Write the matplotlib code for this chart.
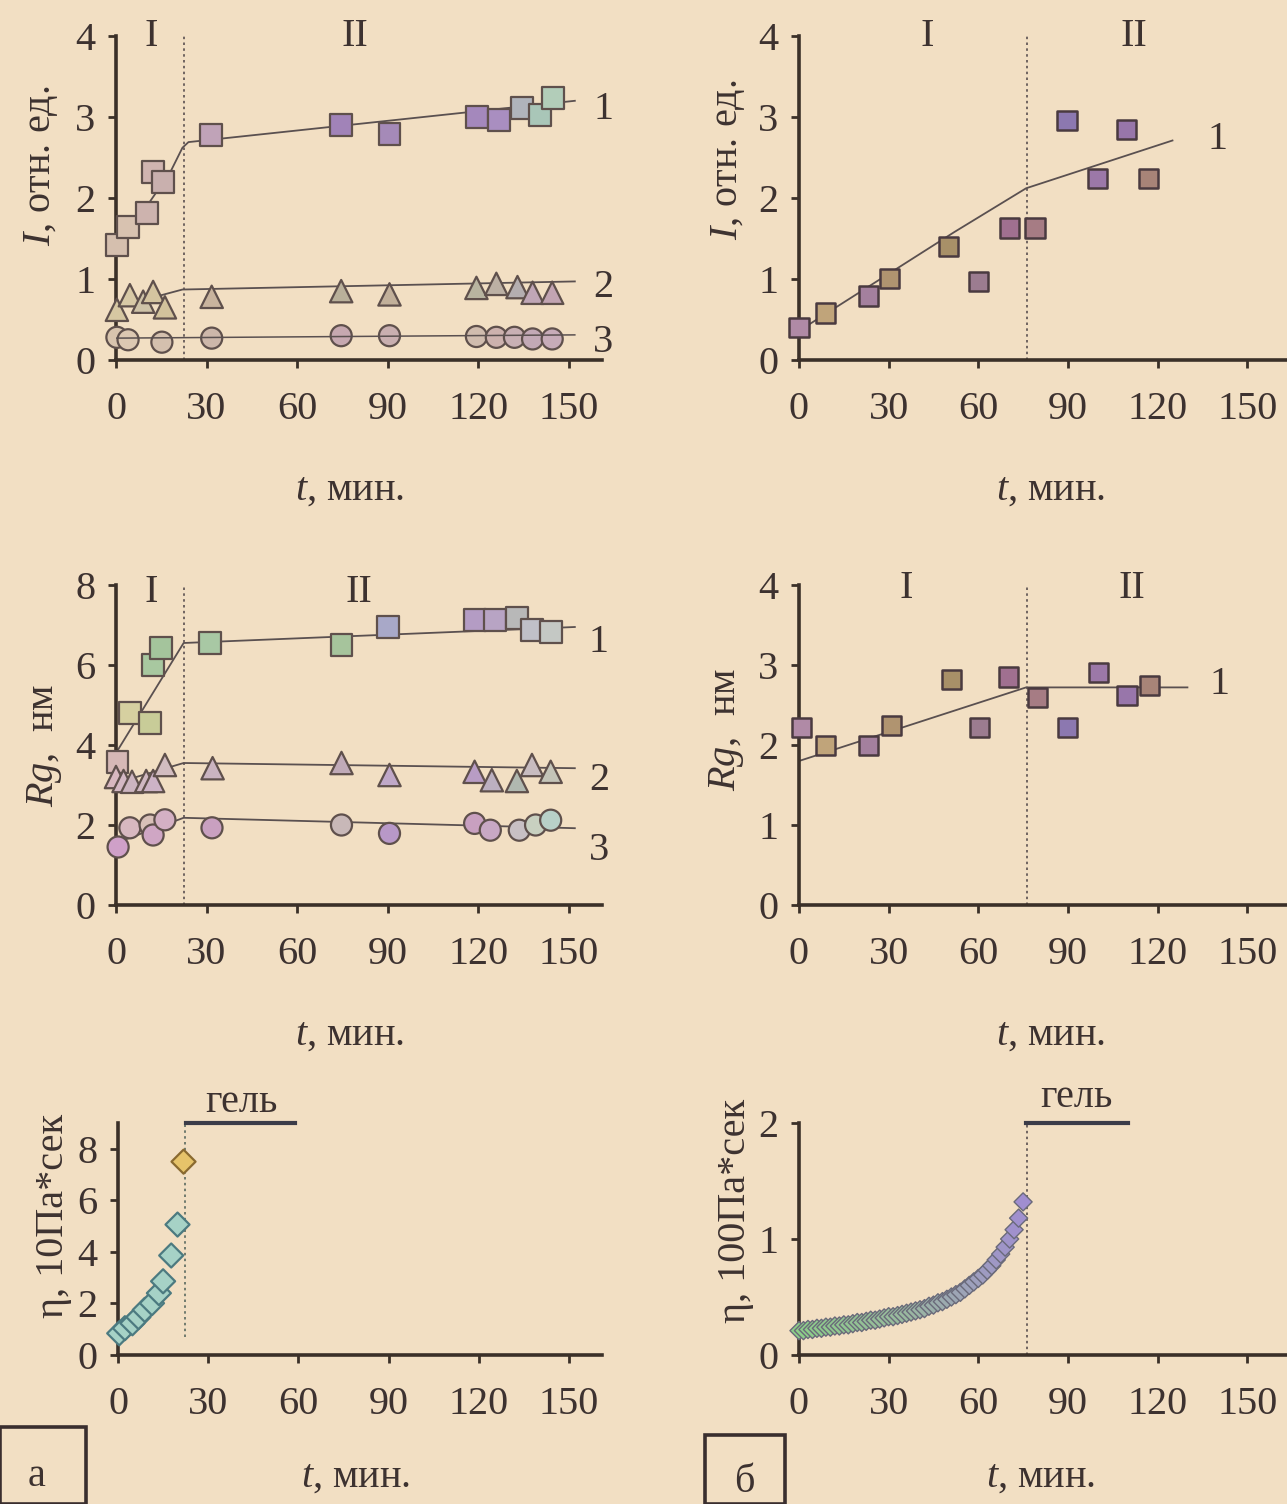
import matplotlib
matplotlib.use('Agg')
import matplotlib.pyplot as plt
from matplotlib.patches import Rectangle
from matplotlib.colors import LinearSegmentedColormap

plt.rcParams['font.family'] = ['Liberation Serif', 'DejaVu Serif']
plt.rcParams['mathtext.fontset'] = 'custom'
plt.rcParams['mathtext.it'] = 'Liberation Serif:italic'
plt.rcParams['mathtext.rm'] = 'Liberation Serif'

# ---------------- data ----------------
x_ticks = [0, 30, 60, 90, 120, 150]

# (a) intensity I, rel. units
a_I_t1 = [0.3, 4, 10.3, 12.3, 15.6, 31.5, 74.6, 90.6, 119.5, 127, 134.4, 140.4, 144.7]
a_I_y1 = [1.42, 1.64, 1.81, 2.32, 2.20, 2.78, 2.90, 2.79, 3.00, 2.96, 3.11, 3.02, 3.23]
a_I_t2 = [0.3, 4.6, 9, 12.3, 16.2, 31.7, 74.6, 90.6, 119.4, 126, 133, 138, 144.5]
a_I_y2 = [0.62, 0.80, 0.72, 0.84, 0.65, 0.78, 0.85, 0.81, 0.89, 0.94, 0.90, 0.83, 0.83]
a_I_t3 = [0.3, 4, 15.2, 31.7, 74.6, 90.6, 119.4, 126, 132, 138, 144.5]
a_I_y3 = [0.28, 0.25, 0.22, 0.27, 0.30, 0.30, 0.29, 0.28, 0.28, 0.26, 0.26]
a_I_fit1_t = [0, 18, 22, 24, 152]
a_I_fit1_y = [1.35, 2.32, 2.62, 2.69, 3.20]
a_I_fit2_t = [0, 15, 22, 152]
a_I_fit2_y = [0.68, 0.80, 0.87, 0.97]
a_I_fit3_t = [0, 152]
a_I_fit3_y = [0.27, 0.31]

# (б) intensity
b_I_t = [0, 8.9, 23.3, 30.4, 50, 60, 70.5, 79, 89.7, 100, 109.6, 117]
b_I_y = [0.40, 0.58, 0.79, 1.01, 1.40, 0.97, 1.63, 1.63, 2.96, 2.24, 2.85, 2.24]
b_I_fit_t = [0, 52, 76, 125]
b_I_fit_y = [0.36, 1.58, 2.12, 2.71]

# (a) Rg, nm
a_R_t1 = [0.5, 4.6, 11.3, 12.2, 15, 31, 74.7, 90, 118.8, 125.6, 132.8, 137.8, 144]
a_R_y1 = [3.58, 4.80, 4.55, 6.00, 6.42, 6.54, 6.50, 6.96, 7.12, 7.12, 7.17, 6.88, 6.83]
a_R_t2 = [0, 2.5, 5.3, 10, 12.3, 16.2, 32, 74.7, 90.6, 118.8, 124.5, 132.8, 137.8, 144]
a_R_y2 = [3.20, 3.10, 3.08, 3.10, 3.10, 3.50, 3.42, 3.55, 3.25, 3.33, 3.12, 3.10, 3.50, 3.33]
a_R_t3 = [0.7, 4.6, 11.3, 12.3, 16.2, 31.8, 74.7, 90.6, 118.8, 124, 133.6, 139, 144]
a_R_y3 = [1.45, 1.93, 2.00, 1.75, 2.13, 1.93, 2.00, 1.79, 2.04, 1.87, 1.87, 2.00, 2.12]
a_R_fit1_t = [0, 22.4, 152]
a_R_fit1_y = [3.80, 6.55, 6.95]
a_R_fit2_t = [0, 22.4, 152]
a_R_fit2_y = [3.05, 3.55, 3.42]
a_R_fit3_t = [0, 22.4, 152]
a_R_fit3_y = [1.55, 2.18, 1.92]

# (б) Rg
b_R_t = [0.7, 8.9, 23.2, 31, 51, 60.4, 70.2, 79.8, 90, 100.2, 109.8, 117.3]
b_R_y = [2.22, 1.99, 1.99, 2.24, 2.82, 2.22, 2.85, 2.59, 2.22, 2.91, 2.62, 2.74]
b_R_fit_t = [0, 76, 130]
b_R_fit_y = [1.80, 2.72, 2.72]

# (a) viscosity, 10 Pa*s
a_eta_t = [0.4, 2.3, 4.8, 6.8, 8.9, 11.3, 13.6, 15, 17.7, 19.8, 21.8]
a_eta_y = [0.84, 1.04, 1.23, 1.47, 1.75, 2.01, 2.40, 2.86, 3.86, 5.06, 7.50]
a_gel_t = [22.5, 59]
a_gel_y = [9.0, 9.0]

# (б) viscosity, 100 Pa*s
b_eta_t = [0, 1.5, 3, 4.5, 6, 7.5, 9, 10.5, 12, 13.5, 15, 16.5, 18, 19.5, 21, 22.5,
           24, 25.5, 27, 28.5, 30, 31.5, 33, 34.5, 36, 37.5, 39, 40.5, 42, 43.5, 45,
           46.5, 48, 49.5, 51, 52.5, 54, 55.5, 57, 58.5, 60, 61.5, 63, 64.5, 66, 67.5,
           69, 70.5, 72, 73.5, 75]
b_eta_y = [0.21, 0.21, 0.22, 0.22, 0.23, 0.23, 0.24, 0.24, 0.25, 0.25, 0.26, 0.26,
           0.27, 0.28, 0.28, 0.29, 0.30, 0.30, 0.31, 0.32, 0.33, 0.33, 0.34, 0.35,
           0.36, 0.37, 0.38, 0.39, 0.40, 0.42, 0.43, 0.45, 0.46, 0.48, 0.50, 0.52,
           0.54, 0.57, 0.60, 0.63, 0.66, 0.69, 0.73, 0.77, 0.82, 0.87, 0.93, 1.00,
           1.08, 1.18, 1.32]
b_gel_t = [76, 110]
b_gel_y = [2.0, 2.0]

a_boundary = 22.4
b_boundary = 76.4

# ---------------- style ----------------
BG = '#f2dfc3'
AX = '#3b3028'
TXT = '#3d3230'
LINE = '#5a5050'
EDGE = '#5f504c'
FS = 29
W, H = 1287, 1504

sq_a_I = ['#d5bfae', '#d8c2b0', '#cdb3ae', '#d0b4b0', '#c9b0ae', '#c0a3b8', '#a183b8',
          '#a58ab8', '#a488bc', '#a98ec0', '#b0b4bc', '#a9c6b8', '#b2cdb9']
tri_a_I = ['#d6c7a2', '#d8c9a6', '#cfc3a8', '#d4c4a0', '#d2c29c', '#c9b49e', '#b9b09a',
           '#c2b09a', '#b8b4a0', '#bcb0a4', '#b4aeb0', '#c0a6b6', '#c2a4b2']
cir_a_I = ['#d8c4ae', '#dcc8b2', '#d4c0ae', '#cdb7aa', '#c6a8b0', '#c9afb0', '#d0bcae',
           '#cdb2ae', '#c9b0b4', '#c3a9b6', '#c7acb8']
sq_b = ['#b08aa6', '#c0a47a', '#a4809e', '#b09470', '#a89068', '#9c7c90', '#a07090',
        '#a67c84', '#8c78b0', '#9c78a8', '#9876aa', '#a88478']
sq_a_R = ['#d6b8b6', '#d6d0a0', '#c8cc98', '#a8c8a0', '#a4c49c', '#a8c8a4', '#a6c49c',
          '#a8a8c8', '#b49cc4', '#b8a4c4', '#b8b8b8', '#c0c0c8', '#c4c8c4']
tri_a_R = ['#d8b8c0', '#d4b8c4', '#ccb4c0', '#d0b8c2', '#cdb3c6', '#d2bcc0', '#cab4c0',
           '#c0aab8', '#c0a8c8', '#b89cc4', '#bcb0c0', '#b0b8b0', '#c8bcc0', '#c4c4b8']
cir_a_R = ['#cfa0c8', '#d8b8c0', '#d8c0b8', '#cfa6c4', '#d4b0c4', '#c9a0c0', '#c8b8b8',
           '#b898c8', '#c8a0c0', '#c8a8c4', '#c8c0c4', '#c8d0c0', '#b8d0c8']


def px_ax(x0, x1, ytop, ybot, xlim, ylim, yticks):
    ax = fig.add_axes([x0 / W, 1 - ybot / H, (x1 - x0) / W, (ybot - ytop) / H])
    ax.set_facecolor('none')
    ax.set_xlim(xlim)
    ax.set_ylim(ylim)
    for s in ('top', 'right'):
        ax.spines[s].set_visible(False)
    for s in ('left', 'bottom'):
        ax.spines[s].set_color(AX)
        ax.spines[s].set_linewidth(2.6)
    ax.set_xticks(x_ticks)
    ax.set_yticks(yticks)
    ax.tick_params(direction='out', length=6, width=2, colors=AX, labelcolor=TXT,
                   labelsize=FS)
    ax.tick_params(axis='x', pad=16)
    ax.tick_params(axis='y', pad=9)
    return ax


def labels(ax, ylab, yx, yy, xx, xy):
    ax.set_ylabel(ylab, fontsize=FS, color=TXT)
    ax.yaxis.label.set_va('center')
    ax.yaxis.set_label_coords(yx, yy)
    ax.set_xlabel('$t$, мин.', fontsize=FS, color=TXT)
    ax.xaxis.label.set_va('center')
    ax.xaxis.set_label_coords(xx, xy)


fig = plt.figure(figsize=(W / 100, H / 100), dpi=100, facecolor=BG)

# ---- (a) I ----
ax = px_ax(116, 602, 36, 360, (0, 161), (0, 4), [0, 1, 2, 3, 4])
ax.axvline(a_boundary, color=LINE, lw=1.2, ls=(0, (1.5, 2)))
ax.plot(a_I_fit1_t, a_I_fit1_y, color=LINE, lw=1.3, zorder=2)
ax.plot(a_I_fit2_t, a_I_fit2_y, color=LINE, lw=1.3, zorder=2)
ax.scatter(a_I_t1, a_I_y1, marker='s', s=250, c=sq_a_I, edgecolors=EDGE, linewidths=1.6, zorder=3, clip_on=False)
ax.scatter(a_I_t2, a_I_y2, marker='^', s=260, c=tri_a_I, edgecolors=EDGE, linewidths=1.6, zorder=3, clip_on=False)
ax.scatter(a_I_t3, a_I_y3, marker='o', s=230, c=cir_a_I, edgecolors=EDGE, linewidths=1.6, zorder=3, clip_on=False)
ax.plot(a_I_fit3_t, a_I_fit3_y, color=LINE, lw=1.1, zorder=4)
for lab, yy in (('1', 3.09), ('2', 0.90), ('3', 0.21)):
    ax.text(161.5, yy, lab, fontsize=FS, color=TXT, ha='center', va='center', clip_on=False)
ax.text(11.6, 3.99, 'I', fontsize=FS, color=TXT, ha='center', va='center')
ax.text(79, 3.99, 'II', fontsize=FS, color=TXT, ha='center', va='center')
labels(ax, '$I$, отн. ед.', (41 - 116) / 486, 0.60, 0.48, (360 - 490) / 324)

# ---- (б) I ----
ax = px_ax(799, 1292, 36, 360, (0, 165), (0, 4), [0, 1, 2, 3, 4])
ax.axvline(b_boundary, color=LINE, lw=1.2, ls=(0, (1.5, 2)))
ax.plot(b_I_fit_t, b_I_fit_y, color=LINE, lw=1.3, zorder=2)
ax.scatter(b_I_t, b_I_y, marker='s', s=190, c=sq_b, edgecolors='#4a3a40', linewidths=1.8, zorder=3, clip_on=False)
ax.text(140, 2.72, '1', fontsize=FS, color=TXT, ha='center', va='center')
ax.text(43, 3.99, 'I', fontsize=FS, color=TXT, ha='center', va='center')
ax.text(112, 3.99, 'II', fontsize=FS, color=TXT, ha='center', va='center')
labels(ax, '$I$, отн. ед.', (728 - 799) / 493, 0.617, 0.51, (360 - 490) / 324)

# ---- (a) Rg ----
ax = px_ax(116, 602, 585, 905, (0, 161), (0, 8), [0, 2, 4, 6, 8])
ax.axvline(a_boundary, color=LINE, lw=1.2, ls=(0, (1.5, 2)))
ax.plot(a_R_fit1_t, a_R_fit1_y, color=LINE, lw=1.3, zorder=2)
ax.plot(a_R_fit2_t, a_R_fit2_y, color=LINE, lw=1.3, zorder=2)
ax.plot(a_R_fit3_t, a_R_fit3_y, color=LINE, lw=1.3, zorder=2)
ax.scatter(a_R_t1, a_R_y1, marker='s', s=250, c=sq_a_R, edgecolors=EDGE, linewidths=1.6, zorder=3, clip_on=False)
ax.scatter(a_R_t2, a_R_y2, marker='^', s=260, c=tri_a_R, edgecolors=EDGE, linewidths=1.6, zorder=3, clip_on=False)
ax.scatter(a_R_t3, a_R_y3, marker='o', s=230, c=cir_a_R, edgecolors=EDGE, linewidths=1.6, zorder=3, clip_on=False)
for lab, yy in (('1', 6.55), ('2', 3.12), ('3', 1.37)):
    ax.text(160, yy, lab, fontsize=FS, color=TXT, ha='center', va='center', clip_on=False)
ax.text(11.6, 7.82, 'I', fontsize=FS, color=TXT, ha='center', va='center')
ax.text(80.5, 7.82, 'II', fontsize=FS, color=TXT, ha='center', va='center')
labels(ax, '$Rg$,  нм', (45 - 116) / 486, 0.50, 0.48, (905 - 1035) / 320)

# ---- (б) Rg ----
ax = px_ax(799, 1292, 585, 905, (0, 165), (0, 4), [0, 1, 2, 3, 4])
ax.axvline(b_boundary, color=LINE, lw=1.2, ls=(0, (1.5, 2)))
ax.plot(b_R_fit_t, b_R_fit_y, color=LINE, lw=1.3, zorder=2)
ax.scatter(b_R_t, b_R_y, marker='s', s=190, c=sq_b, edgecolors='#4a3a40', linewidths=1.8, zorder=3, clip_on=False)
ax.text(140.8, 2.75, '1', fontsize=FS, color=TXT, ha='center', va='center')
ax.text(36, 3.96, 'I', fontsize=FS, color=TXT, ha='center', va='center')
ax.text(111.4, 3.96, 'II', fontsize=FS, color=TXT, ha='center', va='center')
labels(ax, '$Rg$,  нм', (726 - 799) / 493, 0.55, 0.51, (905 - 1035) / 320)

# ---- (a) viscosity ----
ax = px_ax(118, 602, 1123, 1355, (0, 161), (0, 9), [0, 2, 4, 6, 8])
ax.plot([a_boundary, a_boundary], [0.7, 9.0], color='#5a6a60', lw=1.2, ls=(0, (1.5, 2)))
ax.plot(a_gel_t, a_gel_y, color='#3c3c48', lw=3, clip_on=False)
eta_a_colors = ['#a6d2c6'] * (len(a_eta_t) - 1) + ['#e6c36a']
eta_a_edges = ['#4c7a80'] * (len(a_eta_t) - 1) + ['#8a6a30']
ax.scatter(a_eta_t, a_eta_y, marker='D', s=150, c=eta_a_colors, edgecolors=eta_a_edges, linewidths=1.6, zorder=3, clip_on=False)
ax.text(41, 9.8, 'гель', fontsize=FS, color=TXT, ha='center', va='center', clip_on=False)
labels(ax, 'η, 10Па*сек', (53 - 118) / 484, 0.60, 0.49, (1355 - 1477) / 232)

# ---- (б) viscosity ----
ax = px_ax(799, 1292, 1123, 1355, (0, 165), (0, 2), [0, 1, 2])
ax.plot([b_boundary, b_boundary], [0, 2.0], color=LINE, lw=1.2, ls=(0, (1.5, 2)))
ax.plot(b_gel_t, b_gel_y, color='#3c3c48', lw=3, clip_on=False)
cm = LinearSegmentedColormap.from_list('gp', ['#8ccf88', '#9ab8a0', '#a08ed0'])
n = len(b_eta_t)
ax.scatter(b_eta_t, b_eta_y, marker='D', s=85, c=[cm(i / (n - 1)) for i in range(n)],
           edgecolors='#6a6a7a', linewidths=1.0, zorder=3, clip_on=False)
ax.text(93, 2.22, 'гель', fontsize=FS, color=TXT, ha='center', va='center', clip_on=False)
labels(ax, 'η, 100Па*сек', (736 - 799) / 493, 0.62, 0.49, (1355 - 1477) / 232)

# ---- panel letters in boxes ----
for (bx0, bx1, by0, letter, tx, ty) in ((0, 86, 1427, 'а', 37, 1476), (705, 785, 1435, 'б', 744, 1482)):
    fig.patches.append(Rectangle((bx0 / W, 0), (bx1 - bx0) / W, 1 - by0 / H,
                                 transform=fig.transFigure, fill=False,
                                 edgecolor='#3a2e2e', lw=2.6))
    fig.text(tx / W, 1 - ty / H, letter, fontsize=FS, color=TXT, ha='center', va='center')

fig.savefig('out.png', dpi=100, facecolor=BG)
